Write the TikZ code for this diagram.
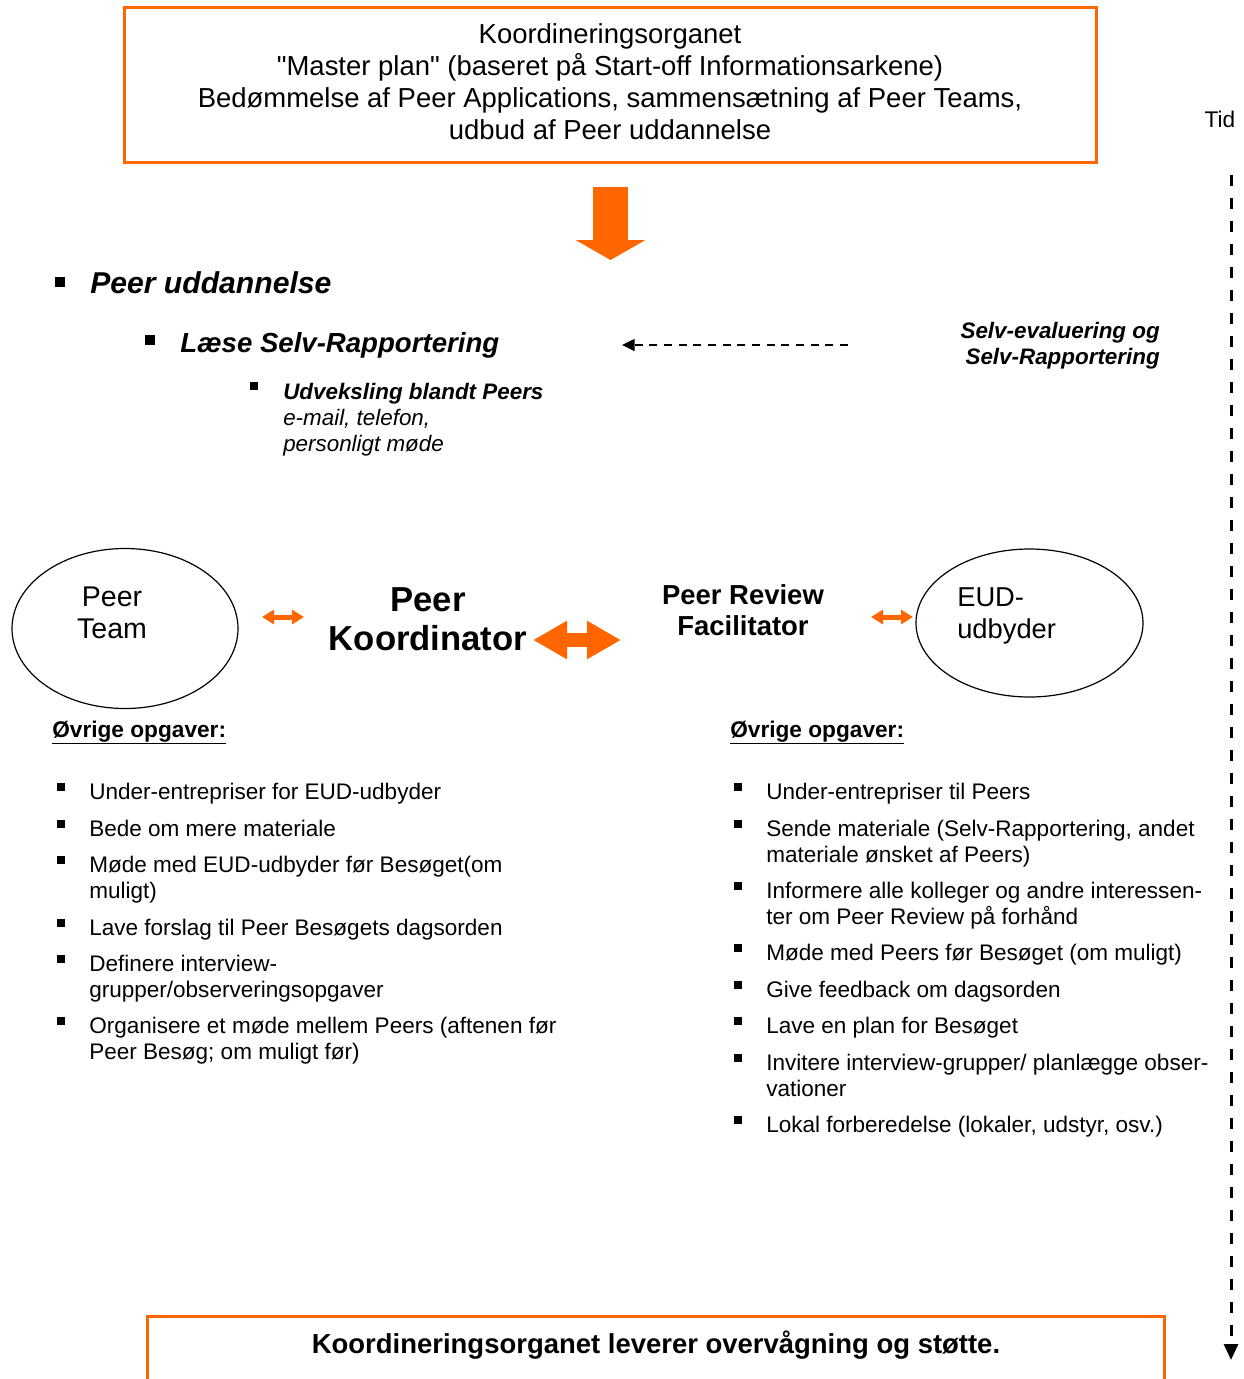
\documentclass[tikz,border=0pt]{standalone}
\usepackage{fontspec}
\setmainfont[Ligatures=TeXOff]{Liberation Sans}
\usetikzlibrary{arrows.meta,shapes.geometric}
\definecolor{kooorange}{RGB}{255,102,0}
\tikzset{
  boxline/.style={draw=kooorange, line width=2.25pt},
  toptxt/.style={align=center, inner sep=0pt, font=\fontsize{20.6}{24}\selectfont},
  listtxt/.style={anchor=base west, inner sep=0pt, align=left, font=\fontsize{16.9}{19.5}\selectfont},
  headtxt/.style={anchor=base west, inner sep=0pt, font=\bfseries\fontsize{17}{19.5}\selectfont},
  bulletsq/.style={fill=black, minimum size=6pt, inner sep=0pt},
  bigbullet/.style={fill=black, minimum size=7.5pt, inner sep=0pt},
  circ/.style={draw, ellipse, line width=0.9pt, inner sep=0pt},
  smallarrow/.style={draw=kooorange, line width=3.75pt, {Triangle[length=9pt,width=10.5pt]}-{Triangle[length=9pt,width=10.5pt]}},
}
\begin{document}
\begin{tikzpicture}[x=0.75pt,y=0.75pt,yscale=-1,xscale=1]
    \useasboundingbox (0,0) rectangle (1244,1379);
    % Top box
    \node[boxline, minimum width=729pt, minimum height=116.25pt] (organ) at (610,84.5) {};
    \node[toptxt] (organtxt) at (610,82) {Koordineringsorganet\\"Master plan" (baseret på Start-off Informationsarkene)\\Bedømmelse af Peer Applications, sammensætning af Peer Teams,\\udbud af Peer uddannelse};
    % Big down arrow
    \coordinate (downtop) at (610.5,187);
    \coordinate (downtip) at (610.5,260);
    \draw[kooorange, line width=26.25pt, -{Triangle[length=15pt,width=51.75pt]}] (downtop) -- (downtip);
    % Time axis
    \node[anchor=base, inner sep=0pt, font=\fontsize{17}{20}\selectfont] (tid) at (1220,127) {Tid};
    \coordinate (tidtop) at (1231,175);
    \coordinate (tidend) at (1231,1360);
    \draw[line width=2.25pt, dash pattern=on 8.25pt off 9pt, -{Triangle[length=12pt,width=10.5pt]}] (tidtop) -- (tidend);
    % Peer uddannelse
    \node[bigbullet] (b1) at (60,282) {};
    \node[anchor=base west, inner sep=0pt, font=\bfseries\itshape\fontsize{22.6}{26}\selectfont] (uddan) at (90,293) {Peer uddannelse};
    \node[bigbullet] (b2) at (150,340) {};
    \node[anchor=base west, inner sep=0pt, font=\bfseries\itshape\fontsize{20.7}{24}\selectfont] (laese) at (180,352) {Læse Selv-Rapportering};
    \node[bulletsq] (b3) at (254,386) {};
    \node[listtxt, font=\itshape\fontsize{16.8}{19.5}\selectfont] (udveks) at (283,451) {\textbf{Udveksling blandt Peers}\\e-mail, telefon,\\personligt møde};
    % Self evaluation
    \node[anchor=base east, inner sep=0pt, align=right, font=\bfseries\itshape\fontsize{16.8}{19.5}\selectfont] (selv) at (1160,364) {Selv-evaluering og\\Selv-Rapportering};
    \coordinate (selvend) at (848,345);
    \coordinate (laeseend) at (622,345);
    \draw[line width=1.1pt, dash pattern=on 6pt off 5pt, -{Triangle[length=9.5pt,width=9pt]}] (selvend) -- (laeseend);
    % Peer Team
    \node[circ, minimum width=169.5pt, minimum height=120pt] (team) at (125,628.5) {};
    \node[anchor=base, inner sep=0pt, align=center, font=\fontsize{21.4}{24}\selectfont] (teamtxt) at (112,638) {Peer\\Team};
    % Peer Koordinator
    \node[anchor=base, inner sep=0pt, align=center, font=\bfseries\fontsize{26}{29.25}\selectfont] (koord) at (428,650) {Peer\\Koordinator};
    \coordinate (ta1) at (262,617);
    \coordinate (ta2) at (304,617);
    \draw[smallarrow] (ta1) -- (ta2);
    \coordinate (ka1) at (533,640);
    \coordinate (ka2) at (621,640);
    \draw[draw=kooorange, line width=10.5pt, {Triangle[length=25.5pt,width=27pt]}-{Triangle[length=25.5pt,width=27pt]}] (ka1) -- (ka2);
    % Facilitator
    \node[anchor=base, inner sep=0pt, align=center, font=\bfseries\fontsize{20.6}{23.25}\selectfont] (facil) at (743,635) {Peer Review\\Facilitator};
    \coordinate (fa1) at (871,617);
    \coordinate (fa2) at (913,617);
    \draw[smallarrow] (fa1) -- (fa2);
    % EUD-udbyder
    \node[circ, minimum width=170.25pt, minimum height=111pt] (eud) at (1029.5,623) {};
    \node[anchor=base west, inner sep=0pt, align=left, font=\fontsize{20.5}{24}\selectfont] (eudtxt) at (957,638) {EUD-\\udbyder};
    % Left tasks
    \node[headtxt] (lhead) at (52,737) {\underline{Øvrige opgaver:}};
    \node[bulletsq] (lb1) at (61,787) {};
    \node[listtxt] (lt1) at (89,799) {Under-entrepriser for EUD-udbyder};
    \node[bulletsq] (lb2) at (61,824) {};
    \node[listtxt] (lt2) at (89,836) {Bede om mere materiale};
    \node[bulletsq] (lb3) at (61,860) {};
    \node[listtxt] (lt3) at (89,898) {Møde med EUD-udbyder før Besøget(om\\muligt)};
    \node[bulletsq] (lb4) at (61,923) {};
    \node[listtxt] (lt4) at (89,935) {Lave forslag til Peer Besøgets dagsorden};
    \node[bulletsq] (lb5) at (61,959) {};
    \node[listtxt] (lt5) at (89,997) {Definere interview-\\grupper/observeringsopgaver};
    \node[bulletsq] (lb6) at (61,1021) {};
    \node[listtxt] (lt6) at (89,1059) {Organisere et møde mellem Peers (aftenen før\\Peer Besøg; om muligt før)};
    % Right tasks
    \node[headtxt] (rhead) at (730,737) {\underline{Øvrige opgaver:}};
    \node[bulletsq] (rb1) at (738,787) {};
    \node[listtxt] (rt1) at (766,799) {Under-entrepriser til Peers};
    \node[bulletsq] (rb2) at (738,824) {};
    \node[listtxt] (rt2) at (766,862) {Sende materiale (Selv-Rapportering, andet\\materiale ønsket af Peers)};
    \node[bulletsq] (rb3) at (738,886) {};
    \node[listtxt] (rt3) at (766,924) {Informere alle kolleger og andre interessen-\\ter om Peer Review på forhånd};
    \node[bulletsq] (rb4) at (738,948) {};
    \node[listtxt] (rt4) at (766,960) {Møde med Peers før Besøget (om muligt)};
    \node[bulletsq] (rb5) at (738,985) {};
    \node[listtxt] (rt5) at (766,997) {Give feedback om dagsorden};
    \node[bulletsq] (rb6) at (738,1021) {};
    \node[listtxt] (rt6) at (766,1033) {Lave en plan for Besøget};
    \node[bulletsq] (rb7) at (738,1058) {};
    \node[listtxt] (rt7) at (766,1096) {Invitere interview-grupper/ planlægge obser-\\vationer};
    \node[bulletsq] (rb8) at (738,1120) {};
    \node[listtxt] (rt8) at (766,1132) {Lokal forberedelse (lokaler, udstyr, osv.)};
    % Bottom box
    \draw[boxline] (147,1379) |- (1164,1316) -- (1164,1379);
    \node[anchor=base, inner sep=0pt, font=\bfseries\fontsize{20.6}{24}\selectfont] (support) at (656,1353) {Koordineringsorganet leverer overvågning og støtte.};
\end{tikzpicture}
\end{document}
